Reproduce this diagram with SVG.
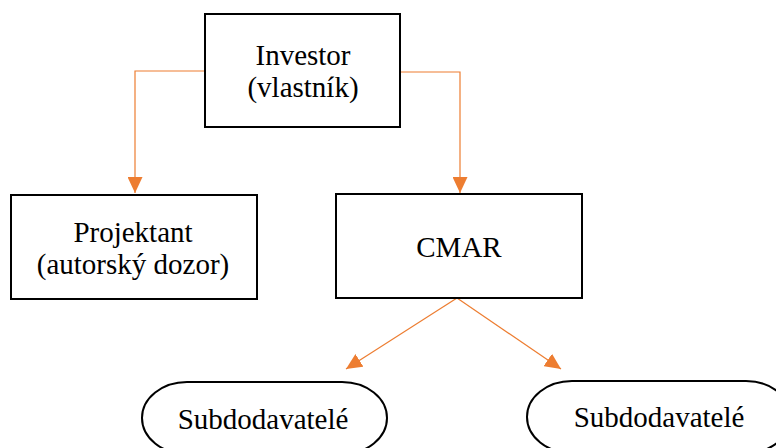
<svg xmlns="http://www.w3.org/2000/svg" width="776" height="448" viewBox="0 0 776 448">
  <style>
    .box { fill: #ffffff; stroke: #000000; stroke-width: 2; }
    .label { font-family: "Liberation Serif", "Times New Roman", serif; font-size: 29px; fill: #000000; text-anchor: middle; }
    .link { fill: none; stroke: #ED7D31; stroke-width: 1.2; marker-end: url(#arrow); }
  </style>
  <defs>
    <marker id="arrow" markerUnits="userSpaceOnUse" markerWidth="16" markerHeight="15" refX="16" refY="7.5" orient="auto">
      <path d="M0,0 L16,7.5 L0,15 Z" fill="#ED7D31"/>
    </marker>
  </defs>

  <rect width="776" height="448" fill="#ffffff"/>

  <g id="connectors">
    <path class="link" d="M205,71 H135 V193"/>
    <path class="link" d="M400,72 H460 V193"/>
    <path class="link" d="M457,298 L346,369"/>
    <path class="link" d="M457,298 L561,369"/>
  </g>

  <g id="investor">
    <rect class="box" x="205" y="14" width="195" height="113"/>
    <text class="label" x="303" y="65">Investor</text>
    <text class="label" x="303" y="97">(vlastník)</text>
  </g>

  <g id="projektant">
    <rect class="box" x="11" y="195" width="246" height="104"/>
    <text class="label" x="133" y="242">Projektant</text>
    <text class="label" x="133" y="274">(autorský dozor)</text>
  </g>

  <g id="cmar">
    <rect class="box" x="336" y="194" width="246" height="104"/>
    <text class="label" x="459" y="257">CMAR</text>
  </g>

  <g id="subdodavatele-1">
    <rect class="box" x="142" y="382" width="245" height="72" rx="45" ry="36"/>
    <text class="label" x="263" y="429">Subdodavatelé</text>
  </g>

  <g id="subdodavatele-2">
    <rect class="box" x="527" y="381" width="264" height="72" rx="45" ry="36"/>
    <text class="label" x="659" y="427">Subdodavatelé</text>
  </g>
</svg>
